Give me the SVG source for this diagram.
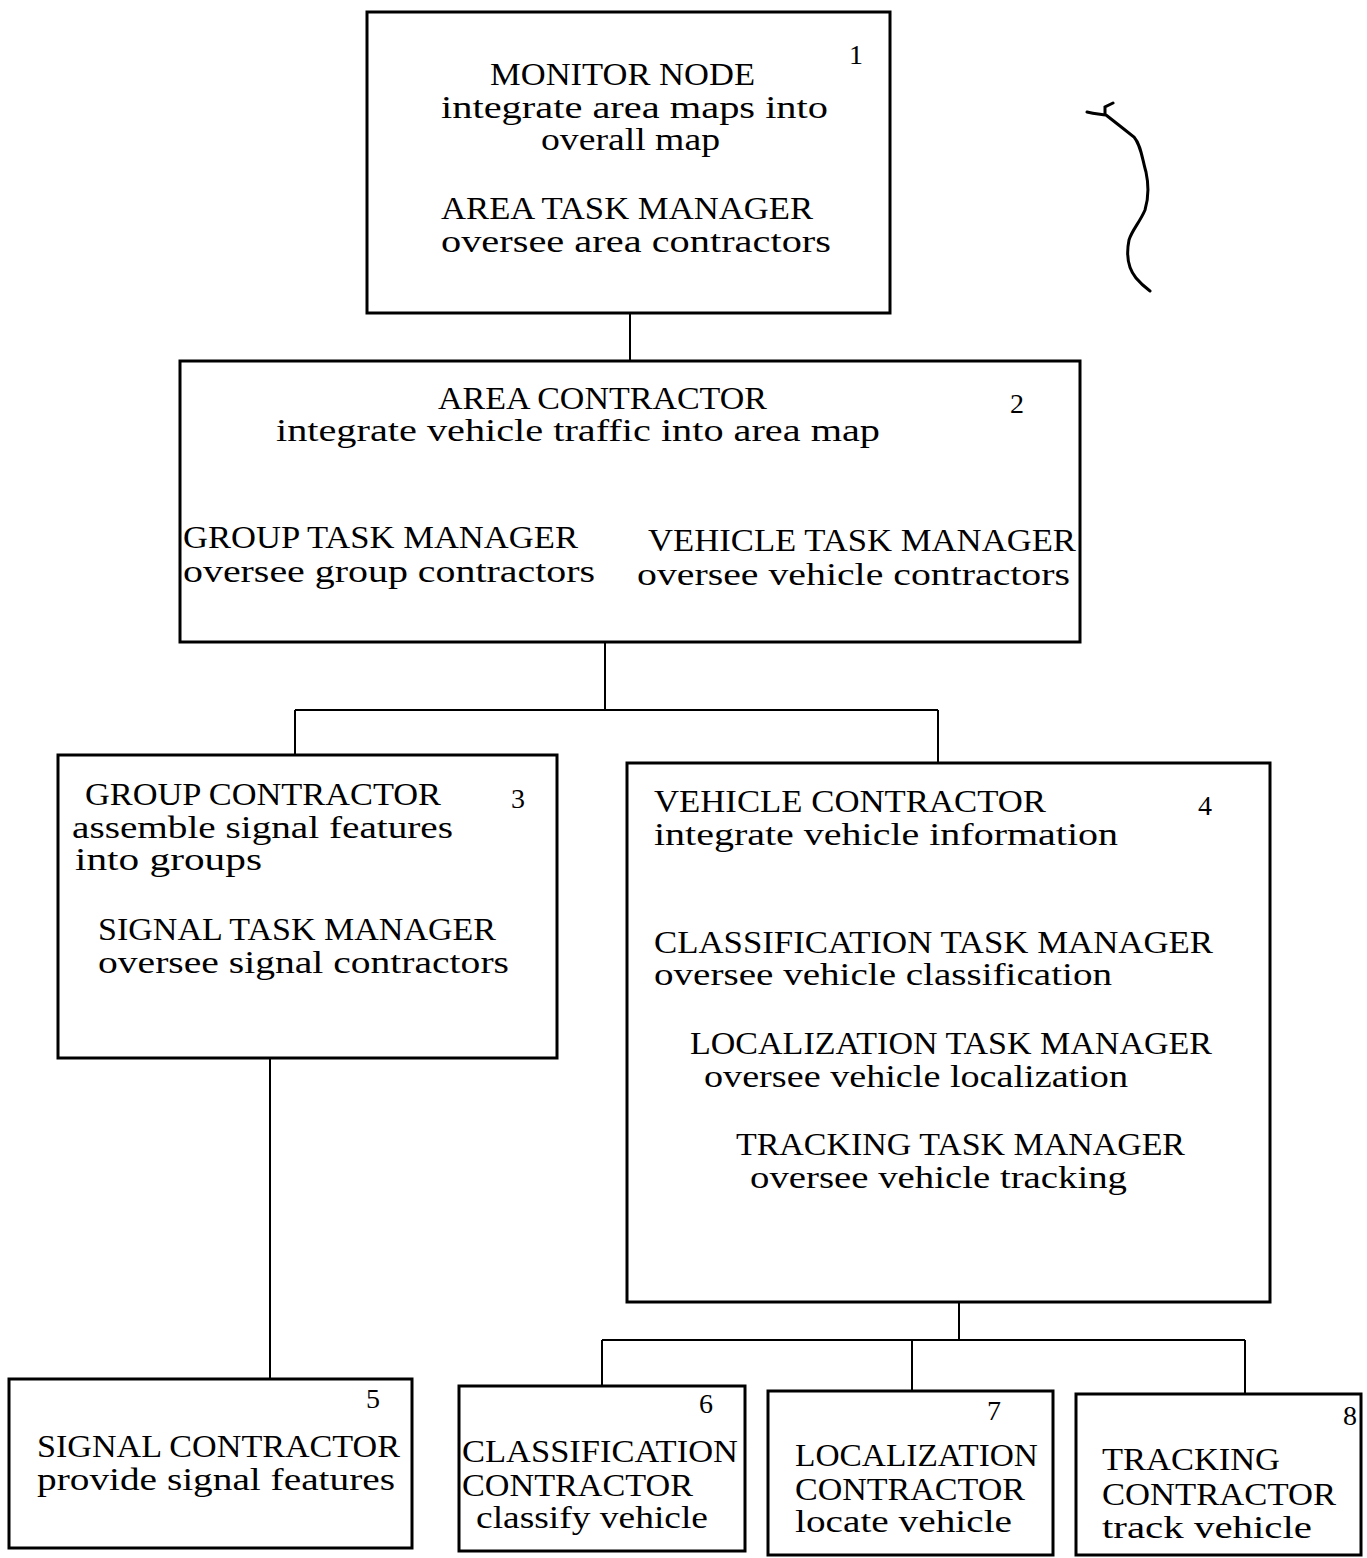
<svg xmlns="http://www.w3.org/2000/svg" width="1367" height="1558" viewBox="0 0 1367 1558">
<style>
.box{fill:none;stroke:#000;stroke-width:3}
.con line{stroke:#000;stroke-width:2}
text{font-family:"Liberation Serif","Times New Roman",serif;font-size:31px;fill:#000}
.num{font-size:28px}
</style>
<rect width="1367" height="1558" fill="#fff"/>
<g id="connectors" class="con">
<line x1="630" y1="313" x2="630" y2="361"/>
<line x1="605" y1="642" x2="605" y2="710"/>
<line x1="295" y1="710" x2="938" y2="710"/>
<line x1="295" y1="710" x2="295" y2="755"/>
<line x1="938" y1="710" x2="938" y2="763"/>
<line x1="270" y1="1058" x2="270" y2="1379"/>
<line x1="959" y1="1302" x2="959" y2="1340"/>
<line x1="602" y1="1340" x2="1245" y2="1340"/>
<line x1="602" y1="1340" x2="602" y2="1386"/>
<line x1="912" y1="1340" x2="912" y2="1391"/>
<line x1="1245" y1="1340" x2="1245" y2="1394"/>
</g>
<g id="node1">
<rect class="box" x="367" y="12" width="523" height="301"/>
<text class="num" x="849" y="64">1</text>
<text x="490" y="85" textLength="265" lengthAdjust="spacingAndGlyphs">MONITOR NODE</text>
<text x="441" y="118" textLength="387" lengthAdjust="spacingAndGlyphs">integrate area maps into</text>
<text x="541" y="150" textLength="179" lengthAdjust="spacingAndGlyphs">overall map</text>
<text x="441" y="219" textLength="372" lengthAdjust="spacingAndGlyphs">AREA TASK MANAGER</text>
<text x="441" y="252" textLength="390" lengthAdjust="spacingAndGlyphs">oversee area contractors</text>
</g>
<g id="node2">
<rect class="box" x="180" y="361" width="900" height="281"/>
<text class="num" x="1010" y="413">2</text>
<text x="438" y="409" textLength="329" lengthAdjust="spacingAndGlyphs">AREA CONTRACTOR</text>
<text x="276" y="441" textLength="604" lengthAdjust="spacingAndGlyphs">integrate vehicle traffic into area map</text>
<text x="183" y="548" textLength="395" lengthAdjust="spacingAndGlyphs">GROUP TASK MANAGER</text>
<text x="183" y="582" textLength="412" lengthAdjust="spacingAndGlyphs">oversee group contractors</text>
<text x="648" y="551" textLength="428" lengthAdjust="spacingAndGlyphs">VEHICLE TASK MANAGER</text>
<text x="637" y="585" textLength="433" lengthAdjust="spacingAndGlyphs">oversee vehicle contractors</text>
</g>
<g id="node3">
<rect class="box" x="58" y="755" width="499" height="303"/>
<text class="num" x="511" y="808">3</text>
<text x="85" y="805" textLength="356" lengthAdjust="spacingAndGlyphs">GROUP CONTRACTOR</text>
<text x="72" y="838" textLength="381" lengthAdjust="spacingAndGlyphs">assemble signal features</text>
<text x="75" y="870" textLength="187" lengthAdjust="spacingAndGlyphs">into groups</text>
<text x="98" y="940" textLength="398" lengthAdjust="spacingAndGlyphs">SIGNAL TASK MANAGER</text>
<text x="98" y="973" textLength="411" lengthAdjust="spacingAndGlyphs">oversee signal contractors</text>
</g>
<g id="node4">
<rect class="box" x="627" y="763" width="643" height="539"/>
<text class="num" x="1198" y="815">4</text>
<text x="654" y="812" textLength="392" lengthAdjust="spacingAndGlyphs">VEHICLE CONTRACTOR</text>
<text x="654" y="845" textLength="464" lengthAdjust="spacingAndGlyphs">integrate vehicle information</text>
<text x="654" y="953" textLength="559" lengthAdjust="spacingAndGlyphs">CLASSIFICATION TASK MANAGER</text>
<text x="654" y="985" textLength="458" lengthAdjust="spacingAndGlyphs">oversee vehicle classification</text>
<text x="690" y="1054" textLength="522" lengthAdjust="spacingAndGlyphs">LOCALIZATION TASK MANAGER</text>
<text x="704" y="1087" textLength="424" lengthAdjust="spacingAndGlyphs">oversee vehicle localization</text>
<text x="736" y="1155" textLength="449" lengthAdjust="spacingAndGlyphs">TRACKING TASK MANAGER</text>
<text x="750" y="1188" textLength="377" lengthAdjust="spacingAndGlyphs">oversee vehicle tracking</text>
</g>
<g id="node5">
<rect class="box" x="9" y="1379" width="403" height="169"/>
<text class="num" x="366" y="1408">5</text>
<text x="37" y="1457" textLength="363" lengthAdjust="spacingAndGlyphs">SIGNAL CONTRACTOR</text>
<text x="37" y="1490" textLength="358" lengthAdjust="spacingAndGlyphs">provide signal features</text>
</g>
<g id="node6">
<rect class="box" x="459" y="1386" width="286" height="165"/>
<text class="num" x="699" y="1413">6</text>
<text x="462" y="1462" textLength="276" lengthAdjust="spacingAndGlyphs">CLASSIFICATION</text>
<text x="462" y="1496" textLength="231" lengthAdjust="spacingAndGlyphs">CONTRACTOR</text>
<text x="476" y="1528" textLength="232" lengthAdjust="spacingAndGlyphs">classify vehicle</text>
</g>
<g id="node7">
<rect class="box" x="768" y="1391" width="285" height="164"/>
<text class="num" x="987" y="1420">7</text>
<text x="795" y="1466" textLength="243" lengthAdjust="spacingAndGlyphs">LOCALIZATION</text>
<text x="795" y="1500" textLength="230" lengthAdjust="spacingAndGlyphs">CONTRACTOR</text>
<text x="795" y="1532" textLength="217" lengthAdjust="spacingAndGlyphs">locate vehicle</text>
</g>
<g id="node8">
<rect class="box" x="1076" y="1394" width="285" height="161"/>
<text class="num" x="1343" y="1425">8</text>
<text x="1102" y="1470" textLength="178" lengthAdjust="spacingAndGlyphs">TRACKING</text>
<text x="1102" y="1505" textLength="234" lengthAdjust="spacingAndGlyphs">CONTRACTOR</text>
<text x="1102" y="1538" textLength="210" lengthAdjust="spacingAndGlyphs">track vehicle</text>
</g>
<path d="M1087,112 C1095,114 1100,114 1106,115 M1105,114 L1105,107 L1113,103 M1106,115 C1115,122 1125,130 1134,137 C1141,145 1142,158 1146,172 C1149,186 1148,200 1145,210 C1140,222 1132,230 1129,240 C1126,255 1128,268 1136,278 C1141,284 1146,288 1150,291" fill="none" stroke="#000" stroke-width="3" stroke-linecap="round"/>
</svg>
